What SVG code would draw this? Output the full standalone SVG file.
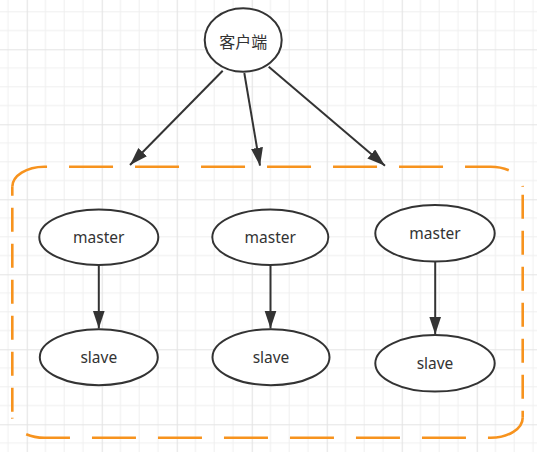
<svg xmlns="http://www.w3.org/2000/svg" width="537" height="452" viewBox="0 0 537 452">
  <style>
    .node { fill: #ffffff; stroke: #333333; stroke-width: 2; }
    .label { font-family: "Noto Sans", "Liberation Sans", sans-serif; font-size: 15.5px; fill: #333333; text-anchor: middle; }
    .cjk { font-family: "Noto Sans CJK SC", "Noto Sans", sans-serif; font-size: 16px; fill: #333333; text-anchor: middle; }
    .edge { fill: none; stroke: #333333; stroke-width: 2; }
    .frame { fill: none; stroke: #f7931e; stroke-width: 2.6; }
    .minor { stroke: #efefef; stroke-width: 1; }
    .major { stroke: #e4e4e4; stroke-width: 1.2; }
  </style>
  <defs>
    <pattern id="grid" patternUnits="userSpaceOnUse" x="26.7" y="49.3" width="75" height="75">
      <rect width="75" height="75" fill="#ffffff"/>
      <line class="minor" x1="18.75" y1="0" x2="18.75" y2="75"/>
      <line class="minor" x1="37.5" y1="0" x2="37.5" y2="75"/>
      <line class="minor" x1="56.25" y1="0" x2="56.25" y2="75"/>
      <line class="minor" x1="0" y1="18.75" x2="75" y2="18.75"/>
      <line class="minor" x1="0" y1="37.5" x2="75" y2="37.5"/>
      <line class="minor" x1="0" y1="56.25" x2="75" y2="56.25"/>
      <line class="major" x1="0.5" y1="0" x2="0.5" y2="75"/>
      <line class="major" x1="0" y1="0.5" x2="75" y2="0.5"/>
    </pattern>
    <marker id="arrow" markerUnits="userSpaceOnUse" markerWidth="20" markerHeight="14" refX="18" refY="6" orient="auto">
      <path d="M0,0 L18,6 L0,12 Z" fill="#333333"/>
    </marker>
  </defs>

  <rect x="0" y="0" width="537" height="452" fill="url(#grid)"/>

  <g id="container">
    <path class="frame" stroke-dasharray="44 22" d="M12.3,186.7 A32,20 0 0 1 44.3,166.7 L490.7,166.7 A32,20 0 0 1 522.7,186.7"/>
    <path class="frame" stroke-dasharray="24 12" stroke-dashoffset="-8" d="M522.7,186.7 L522.7,417.7"/>
    <path class="frame" stroke-dasharray="44 22" d="M522.7,417.7 A32,20 0 0 1 490.7,437.7 L44.3,437.7 A32,20 0 0 1 12.3,417.7"/>
    <path class="frame" stroke-dasharray="24 12" stroke-dashoffset="-6" d="M12.3,417.7 L12.3,186.7"/>
  </g>

  <g id="connectors">
    <line class="edge" x1="222.7" y1="70.7" x2="130" y2="165" marker-end="url(#arrow)"/>
    <line class="edge" x1="244.3" y1="73" x2="260" y2="165.7" marker-end="url(#arrow)"/>
    <line class="edge" x1="268.7" y1="66.7" x2="385" y2="165.7" marker-end="url(#arrow)"/>
    <line class="edge" x1="98.8" y1="265" x2="98.8" y2="328.5" marker-end="url(#arrow)"/>
    <line class="edge" x1="270.5" y1="265" x2="270.5" y2="328.5" marker-end="url(#arrow)"/>
    <line class="edge" x1="435.2" y1="261.7" x2="435.2" y2="334.5" marker-end="url(#arrow)"/>
  </g>

  <g id="client">
    <ellipse class="node" cx="243.2" cy="40" rx="38.5" ry="31.7"/>
    <text class="cjk" x="243.2" y="47.5">客户端</text>
  </g>

  <g id="master1">
    <ellipse class="node" cx="98.8" cy="237.2" rx="59.5" ry="27.8"/>
    <text class="label" x="98.8" y="243.2">master</text>
  </g>
  <g id="slave1">
    <ellipse class="node" cx="98.8" cy="357.2" rx="59" ry="28"/>
    <text class="label" x="98.8" y="363.2">slave</text>
  </g>

  <g id="master2">
    <ellipse class="node" cx="270.3" cy="237.2" rx="58" ry="27.8"/>
    <text class="label" x="270.3" y="243.2">master</text>
  </g>
  <g id="slave2">
    <ellipse class="node" cx="271" cy="357.2" rx="58.5" ry="28"/>
    <text class="label" x="271" y="363.2">slave</text>
  </g>

  <g id="master3">
    <ellipse class="node" cx="435" cy="233.3" rx="59.7" ry="28.3"/>
    <text class="label" x="435" y="239.3">master</text>
  </g>
  <g id="slave3">
    <ellipse class="node" cx="435" cy="363.3" rx="59.7" ry="28.3"/>
    <text class="label" x="435" y="369.3">slave</text>
  </g>
</svg>
